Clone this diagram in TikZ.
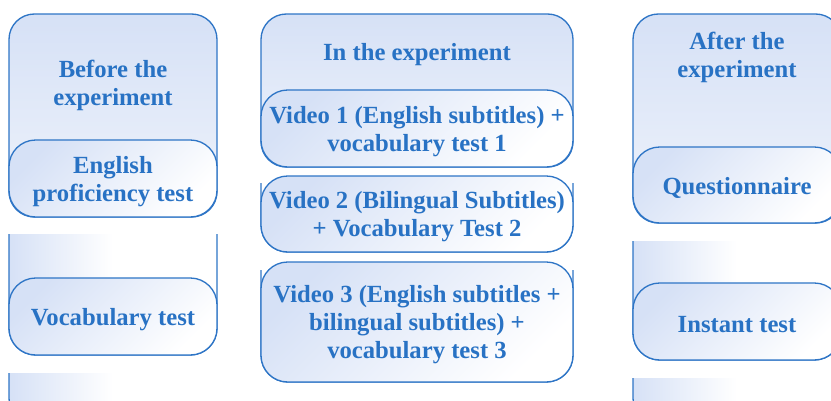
\documentclass[tikz,border=0pt]{standalone}
\usepackage{fontspec}
\setmainfont{Liberation Serif}

\definecolor{linecol}{RGB}{46,117,198}
\definecolor{textcol}{RGB}{40,114,196}
\definecolor{fillblue}{RGB}{214,225,246}

\newcommand\stagefont{\bfseries\fontsize{18.5}{21}\selectfont}

\tikzset{
  stagebox/.style={draw=linecol, line width=1pt,
                   top color=fillblue, bottom color=fillblue!40!white,
                   rounded corners=19pt},
  sidebox/.style={draw=linecol, line width=1pt,
                  left color=fillblue, right color=white, middle color=white,
                  rounded corners=20pt},
  stepbox/.style={draw=linecol, line width=1pt,
                  top color=fillblue, bottom color=white, shading angle=45,
                  rounded corners=20pt, inner sep=0pt},
  stagetext/.style={text=textcol, font=\stagefont, align=center},
  steptext/.style={stagetext, yshift=-2pt},
  edge/.style={draw=linecol, line width=1pt, rounded corners=20pt}
}

\begin{document}
\begin{tikzpicture}[x=0.75pt, y=-0.75pt]
  \useasboundingbox (0,0) rectangle (831,400);
  \clip (0,0) rectangle (831,400);

  % before the experiment
  \path[stagebox] (9,14) rectangle (217,217);
  \node[stagetext] (before) at (113,85) {Before the\\experiment};
  \node[stepbox, minimum width=156pt, minimum height=57.75pt]
    (prof) at (113,178.5) {};
  \node[steptext] (proftext) at (prof) {English\\proficiency test};
  \path[sidebox] (9,234) -- (9,355) -- (217,355) -- (217,234);
  \node[stepbox, minimum width=156pt, minimum height=57.75pt]
    (vocab) at (113,316.5) {};
  \node[steptext] (vocabtext) at (vocab) {Vocabulary test};
  \shade[left color=fillblue, right color=white, middle color=white]
    (9,373) rectangle (217,425);
  \draw[edge] (9,373) -- (9,425) -- (80,425);

  % in the experiment
  \path[stagebox] (261,14) rectangle (573,167);
  \node[stagetext] (inexp) at (417,55) {In the experiment};
  \node[stepbox, minimum width=234pt, minimum height=57.75pt]
    (video1) at (417,128.5) {};
  \node[steptext] (video1text) at (video1)
    {Video 1 (English subtitles) +\\vocabulary test 1};
  \draw[edge] (261,183) -- (261,252) -- (573,252) -- (573,183);
  \node[stepbox, minimum width=234pt, minimum height=57pt]
    (video2) at (417,214) {};
  \node[steptext] (video2text) at (video2)
    {Video 2 (Bilingual Subtitles)\\+ Vocabulary Test 2};
  \draw[edge] (261,270) -- (261,382) -- (573,382) -- (573,270);
  \node[stepbox, minimum width=234pt, minimum height=90pt]
    (video3) at (417,322) {};
  \node[steptext] (video3text) at (video3)
    {Video 3 (English subtitles +\\bilingual subtitles) +\\vocabulary test 3};

  % after the experiment
  \path[stagebox] (633,14) rectangle (841,223);
  \node[stagetext] (after) at (737,57) {After the\\experiment};
  \node[stepbox, minimum width=156pt, minimum height=57pt]
    (quest) at (737,185) {};
  \node[steptext] (questtext) at (quest) {Questionnaire};
  \path[sidebox] (633,241) -- (633,360) -- (841,360) -- (841,241);
  \node[stepbox, minimum width=156pt, minimum height=57.75pt]
    (instant) at (737,321.5) {};
  \node[steptext] (instanttext) at (instant) {Instant test};
  \shade[left color=fillblue, right color=white, middle color=white]
    (633,378) rectangle (841,425);
  \draw[edge] (633,378) -- (633,425) -- (700,425);
\end{tikzpicture}
\end{document}
